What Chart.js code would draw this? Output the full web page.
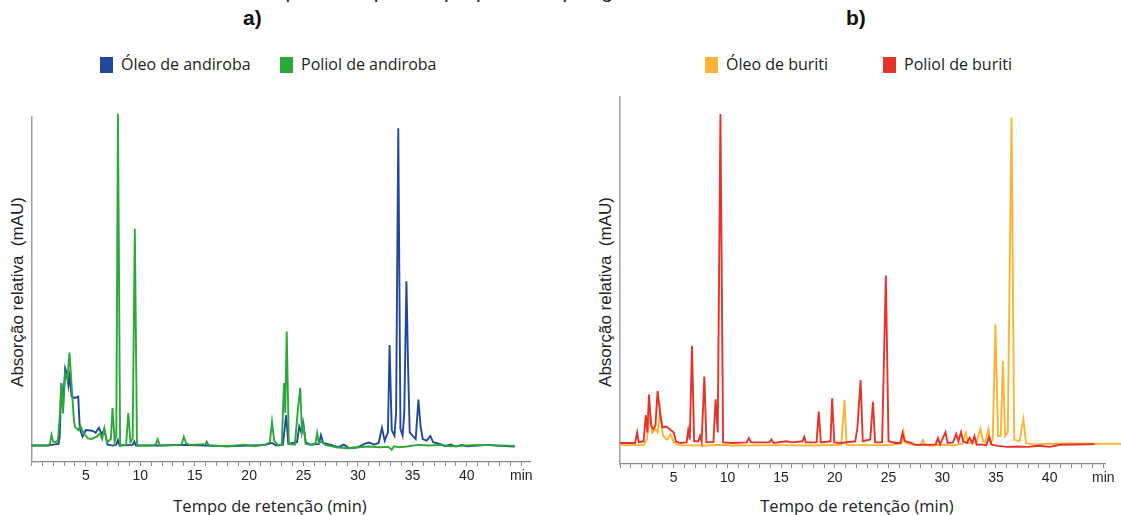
<!DOCTYPE html>
<html lang="pt">
<head>
<meta charset="utf-8">
<title>Cromatogramas andiroba e buriti</title>
<script src="https://cdn.jsdelivr.net/npm/chart.js@4.4.1/dist/chart.umd.min.js"></script>
<style>
  body { margin: 0; background: #fff; }
  #page { position: relative; width: 1121px; height: 515px; overflow: hidden; background: #fff; }
  canvas { position: absolute; top: 0; }
  .cut { position: absolute; top: -21px; left: 0; width: 1121px; text-align: center; font: 21px "Liberation Sans", Arial, sans-serif; color: #222; white-space: nowrap; letter-spacing: 0.6px; }
  .tag { position: absolute; top: 6px; font: bold 21px "Liberation Sans", Arial, sans-serif; color: #111; }
  .leg { position: absolute; top: 54px; font: 16px "Open Sans", sans-serif; color: #222; white-space: nowrap; line-height: 20px; }
  .leg i { display: inline-block; width: 13px; height: 16px; vertical-align: -3px; margin-right: 8px; }
  .ytitle { position: absolute; font: 17px "Liberation Sans", Arial, sans-serif; color: #222; white-space: nowrap; transform: translate(-50%, -50%) rotate(-90deg); }
  .xtitle { position: absolute; top: 494px; font: 16.5px "Open Sans", sans-serif; color: #222; white-space: nowrap; transform: translateX(-50%); }
</style>
</head>
<body>
<div id="page">
  <div class="cut">respectivos polióis preparados por glicerólise em micro-ondas</div>
  <div class="tag" style="left:243px">a)</div>
  <div class="tag" style="left:846px">b)</div>

  <div class="leg" style="left:100px"><i style="background:#22489b"></i>Óleo de andiroba</div>
  <div class="leg" style="left:280px"><i style="background:#2ba83a"></i>Poliol de andiroba</div>
  <div class="leg" style="left:705px"><i style="background:#fbb433"></i>Óleo de buriti</div>
  <div class="leg" style="left:883px"><i style="background:#e6332a"></i>Poliol de buriti</div>

  <div class="ytitle" style="left:18px;top:292px">Absorção relativa&nbsp; (mAU)</div>
  <div class="ytitle" style="left:606px;top:292px">Absorção relativa&nbsp; (mAU)</div>
  <div class="xtitle" style="left:270px">Tempo de retenção (min)</div>
  <div class="xtitle" style="left:857px">Tempo de retenção (min)</div>

  <canvas id="chart-a" width="560" height="515" style="left:0"></canvas>
  <canvas id="chart-b" width="561" height="515" style="left:560px"></canvas>
</div>

<script>
// retention time (min) / relative absorbance
const andirobaOilTime = [0, 1.5, 2.0, 2.5, 2.6, 2.75, 2.9, 3.1, 3.3, 3.4, 3.5, 3.7, 4.0, 4.3, 4.45, 4.7, 5.0, 5.6, 5.9, 6.2, 6.45, 6.7, 7.0, 7.5, 7.8, 7.95, 8.1, 9.3, 9.45, 9.6, 12, 14, 16, 18, 20, 21.5, 22.1, 22.5, 23.1, 23.4, 23.6, 24.4, 24.6, 24.8, 24.95, 25.2, 25.6, 26.4, 26.6, 26.8, 27.5, 28.2, 28.7, 29.2, 30, 30.6, 31.0, 31.5, 31.9, 32.2, 32.45, 32.75, 32.9, 33.1, 33.35, 33.5, 33.7, 33.9, 34.1, 34.25, 34.45, 34.6, 34.75, 35.0, 35.3, 35.55, 35.75, 35.95, 36.3, 36.65, 36.9, 37.5, 38, 38.5, 39, 39.5, 40, 41, 42, 43, 44.4];
const andirobaOilAbs = [0, 0, 0.3, 0.5, 2.7, 19, 11.8, 23.5, 21.5, 18.4, 21, 14.9, 14.5, 14.9, 5, 2.7, 4.7, 4.5, 3.9, 5.4, 3.5, 4.7, 0.3, 0, 0.3, 1.7, 0, 0.2, 1.2, 0, 0, 0.2, 0, -0.2, 0, 0.2, 0.8, 0, 0.3, 9.3, 0.5, 1, 5.8, 4, 7, 1, 0.3, 0.5, 3.2, 0.8, 0.2, -0.5, 0.3, -0.8, -0.5, 0.5, 0.9, 0.3, 0.8, 5.4, 1.5, 4, 30.6, 4.7, 3, 10, 96.6, 5, 3, 10, 50, 24, 4, 3, 2, 14, 5.8, 2, 1.5, 2.9, 1, 0.5, -0.2, 0.3, -0.3, 0.2, -0.2, 0, 0.2, -0.1, -0.3];

const andirobaPolyolTime = [0, 1.5, 1.7, 1.85, 2.0, 2.3, 2.45, 2.6, 2.75, 2.9, 3.1, 3.3, 3.5, 3.7, 3.9, 4.0, 4.3, 4.5, 4.8, 5.2, 5.5, 6.0, 6.3, 6.5, 6.7, 6.95, 7.3, 7.45, 7.65, 7.8, 7.95, 8.15, 8.7, 8.9, 9.1, 9.3, 9.5, 9.7, 10.5, 11.4, 11.6, 11.8, 13.8, 14.0, 14.2, 14.5, 16.0, 16.1, 16.3, 18, 19.5, 20.5, 21.5, 21.9, 22.1, 22.3, 22.6, 23.0, 23.2, 23.32, 23.45, 23.65, 24.2, 24.5, 24.7, 24.85, 25.0, 25.2, 25.8, 26.1, 26.25, 26.4, 26.7, 27.0, 28, 29, 30, 31, 32, 32.8, 33.1, 33.3, 33.8, 34.5, 35.5, 36.5, 37.5, 38.5, 40, 41.5, 43, 44.4];
const andirobaPolyolAbs = [0, 0, 0.5, 3.2, 1.2, 1.0, 1.9, 8.8, 19, 9.8, 22, 20, 28.3, 17.9, 8, 5.8, 4.7, 6, 3.7, 2.2, 2, 2.7, 3.7, 2, 5.3, 1, 2, 11.4, 1.2, 3, 101, 0, 0.3, 9.9, 1, 2, 66, 0, 0, 0.2, 1.9, 0, 0.3, 2.7, 0.8, 0.2, 0.4, 1.2, 0, -0.2, 0.3, -0.2, 0.3, 1, 7.3, 1.5, 0.2, 0.3, 19, 10, 34.7, 0.5, 0.3, 11.8, 17.6, 4, 6.3, 0.5, 0.2, 0.8, 3.8, 0.8, 1.2, 0.2, -0.5, -0.8, -0.5, -0.3, -0.5, -0.4, -1.3, -0.2, -0.5, -0.3, 0.2, 0, 0.2, -0.2, 0, 0.2, 0, -0.1];

const buritiOilTime = [0, 2.2, 2.5, 2.8, 3.0, 3.3, 3.5, 3.75, 4.0, 4.4, 4.7, 5.0, 5.5, 8, 9.6, 10.5, 15, 18, 20.6, 20.9, 21.1, 22, 25, 26.2, 26.4, 26.6, 27.5, 28.0, 28.2, 28.4, 29, 30, 31, 31.9, 32.2, 32.4, 33.2, 33.55, 33.8, 34.0, 34.3, 34.5, 34.7, 34.95, 35.2, 35.45, 35.65, 35.85, 36.1, 36.45, 36.7, 37.2, 37.55, 37.8, 38.5, 40, 42, 44, 46.8];
const buritiOilAbs = [0.4, 0.4, 2, 9.6, 4, 5, 4, 10.4, 3, 2, 3.5, 1.2, 0.4, 0.3, 0.5, 0.3, 0.4, 0.3, 0.5, 13.3, 0.5, 0.4, 0.4, 0.8, 4.2, 1, 0.4, 0.5, 1.9, 0.5, 0.2, 0.5, 0.3, 0.8, 3.9, 1.0, 1.2, 5.1, 1.5, 1.2, 5.0, 1, 2, 35, 3, 3, 24.5, 3, 4, 94.2, 2, 1.5, 7.9, 1, 0.5, 0.8, 0.9, 0.8, 0.8];

const buritiPolyolTime = [0, 1.4, 1.6, 1.75, 2.2, 2.4, 2.55, 2.7, 2.9, 3.1, 3.3, 3.5, 3.75, 3.95, 4.3, 4.6, 5.0, 5.2, 5.6, 6.2, 6.35, 6.5, 6.7, 6.9, 7.3, 7.45, 7.6, 7.85, 8.05, 8.7, 8.9, 9.1, 9.35, 9.6, 10.5, 11.8, 12.0, 12.2, 13.9, 14.1, 14.3, 15.5, 16, 17, 17.15, 17.3, 18.3, 18.5, 18.7, 19.6, 19.75, 19.95, 20.5, 21.9, 22.1, 22.4, 22.6, 23.3, 23.55, 23.75, 24.4, 24.75, 25.0, 25.6, 26.1, 26.3, 26.5, 27, 27.5, 28.5, 29.4, 29.6, 29.8, 30.3, 30.5, 31.0, 31.3, 31.5, 31.75, 31.95, 32.3, 32.55, 32.8, 33.0, 33.2, 33.7, 34.1, 34.35, 34.6, 35.2, 36, 37, 38, 39, 40, 41, 42.5, 44.2];
const buritiPolyolAbs = [1.0, 1.0, 4.0, 1.2, 1.5, 9.0, 4, 14.9, 6, 5, 6, 15.9, 9, 5.5, 5.7, 5, 4, 1.5, 1.0, 1.2, 4.7, 2, 28.8, 1.5, 1.5, 3.0, 1.3, 20, 1.2, 1.3, 13.5, 4, 95.1, 1.2, 1.0, 1.2, 2.4, 1.2, 1.2, 2.0, 1.0, 1.5, 1.2, 1.5, 2.8, 1.2, 1.2, 10, 1.2, 1.5, 13.8, 1.2, 1.0, 1.5, 5.3, 19, 1.5, 2, 12.8, 1.2, 1.2, 48.9, 1.5, 1.0, 1.0, 3.9, 1.5, 1.2, 0.5, 0.5, 0.6, 2.4, 0.6, 4.1, 1, 1.2, 3.6, 1.5, 4.1, 1.5, 1, 2.5, 1, 3, 0.5, 0.6, 0.3, 2.7, 0.5, 0.2, -0.1, 0, -0.1, 0.2, -0.1, 0.5, 0.6, 0.7];

const xTickLabels = { 5: '5', 10: '10', 15: '15', 20: '20', 25: '25', 30: '30', 35: '35', 40: '40', 45: 'min' };

const toPoints = (times, values) => times.map((t, i) => ({ x: t, y: values[i] }));

const lineSet = (label, times, values, color) => ({
    label: label,
    data: toPoints(times, values),
    borderColor: color,
    backgroundColor: color,
    borderWidth: 1.9,
    pointRadius: 0,
    tension: 0,
    clip: false
});

const makeChart = (canvasId, datasets, opts) => new Chart(document.getElementById(canvasId), {
    type: 'line',
    data: { datasets: datasets },
    options: {
        responsive: false,
        animation: false,
        layout: { padding: { top: opts.top, right: opts.right, left: 0, bottom: 0 } },
        plugins: { legend: { display: false }, tooltip: { enabled: false } },
        scales: {
            x: {
                type: 'linear',
                min: 0,
                max: opts.xMax,
                afterFit: (scale) => { scale.height = opts.xHeight; },
                ticks: {
                    stepSize: 1,
                    autoSkip: false,
                    includeBounds: false,
                    maxRotation: 0,
                    padding: 2,
                    color: '#222',
                    font: { family: '"Liberation Sans", Arial, sans-serif', size: 14 },
                    callback: (v) => xTickLabels[v] || ''
                },
                grid: { drawOnChartArea: false, tickLength: 4, color: '#8a8a8a', lineWidth: 1 },
                border: { color: '#8a8a8a', width: 1.3 }
            },
            y: {
                min: -5,
                max: 100,
                afterFit: (scale) => { scale.width = opts.yWidth; },
                ticks: { display: false },
                grid: { display: false },
                border: { color: '#a0a0a0', width: 1.5 }
            }
        }
    }
});

makeChart('chart-a', [
    lineSet('Poliol de andiroba', andirobaPolyolTime, andirobaPolyolAbs, '#2ba83a'),
    lineSet('Óleo de andiroba', andirobaOilTime, andirobaOilAbs, '#22489b')
], { top: 117, right: 30, xMax: 45.8, xHeight: 53, yWidth: 31.4 });

makeChart('chart-b', [
    lineSet('Poliol de buriti', buritiPolyolTime, buritiPolyolAbs, '#e6332a'),
    lineSet('Óleo de buriti', buritiOilTime, buritiOilAbs, '#fbb433')
], { top: 97, right: 15.5, xMax: 45.2, xHeight: 51, yWidth: 60 });
</script>
</body>
</html>
